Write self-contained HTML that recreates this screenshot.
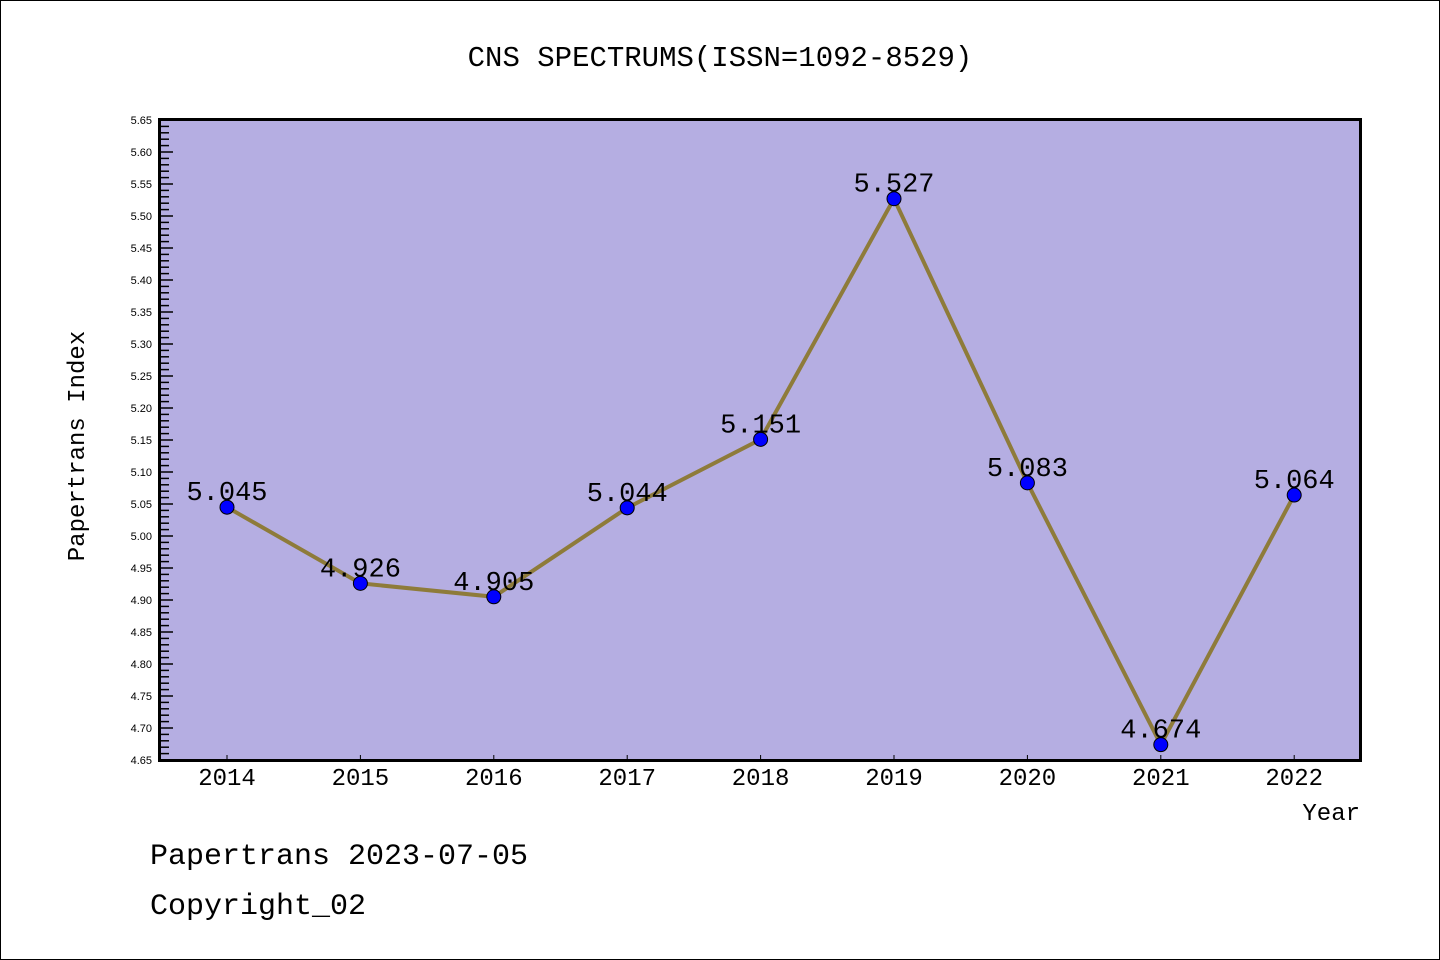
<!DOCTYPE html>
<html><head><meta charset="utf-8"><style>
body{margin:0;background:#fff}
svg{display:block}
.t{font-family:"Liberation Mono","WenQuanYi Zen Hei",monospace}
</style></head><body>
<svg width="1440" height="960">
<rect x="0.5" y="0.5" width="1439" height="959" fill="#fff" stroke="#000"/>
<text class="t" x="720" y="66" font-size="29" text-anchor="middle">CNS SPECTRUMS(ISSN=1092-8529)</text>
<rect x="159.5" y="119.5" width="1201" height="641" fill="#b5aee2"/>
<g id="yax"></g>
<g id="xax"></g>
<g id="series"></g>
<rect x="159.5" y="119.5" width="1201" height="641" fill="none" stroke="#000" stroke-width="3"/>
<text class="t" x="84" y="446" font-size="24" text-anchor="middle" transform="rotate(-90 84 446)">Papertrans Index</text>
<text class="t" x="1360" y="820" font-size="24" text-anchor="end">Year</text>
<text class="t" x="150" y="864" font-size="30">Papertrans 2023-07-05</text>
<text class="t" x="150" y="914" font-size="30">Copyright_02</text>
</svg>
<script>
const years=["2014","2015","2016","2017","2018","2019","2020","2021","2022"];
const values=[5.045,4.926,4.905,5.044,5.151,5.527,5.083,4.674,5.064];
const labels=["5.045","4.926","4.905","5.044","5.151","5.527","5.083","4.674","5.064"];
const yTicks=["4.65","4.70","4.75","4.80","4.85","4.90","4.95","5.00","5.05","5.10","5.15","5.20","5.25","5.30","5.35","5.40","5.45","5.50","5.55","5.60","5.65"];
const ns="http://www.w3.org/2000/svg";
const yMin=4.65,yMax=5.65,pTop=120,pBot=760;
const y=v=>pBot-(v-yMin)/(yMax-yMin)*(pBot-pTop);
const x=i=>227+i*133.4;
function mk(t,a,p){const e=document.createElementNS(ns,t);for(const k in a)e.setAttribute(k,a[k]);p.appendChild(e);return e;}
const ya=document.getElementById('yax');
for(let k=0;k<=100;k++){const v=yMin+k*0.01;const major=k%5===0;
const l=mk('line',{x1:160,x2:major?173:169,y1:y(v),y2:y(v),stroke:'#000','stroke-width':1.5},ya);

}
yTicks.forEach(s=>{const t=mk('text',{x:152,y:y(+s)+4,'font-size':11,'text-anchor':'end','font-family':'"Liberation Sans",sans-serif'},ya);t.textContent=s;

});
const xa=document.getElementById('xax');
years.forEach((s,i)=>{const l=mk('line',{x1:x(i),x2:x(i),y1:760,y2:755,stroke:'#000','stroke-width':1},xa);


const t=mk('text',{x:x(i),y:785,'font-size':24,'text-anchor':'middle','class':'t'},xa);t.textContent=s;

});
const sg=document.getElementById('series');
const pl=mk('polyline',{points:values.map((v,i)=>x(i)+','+y(v)).join(' '),fill:'none',stroke:'#8e7b3a','stroke-width':4},sg);


values.forEach((v,i)=>{const c=mk('circle',{cx:x(i),cy:y(v),r:7,fill:'#0000ff',stroke:'#000','stroke-width':1},sg);


const t=mk('text',{x:x(i),y:y(v)-7,'font-size':27,'text-anchor':'middle','class':'t'},sg);t.textContent=labels[i];

});
</script>
</body></html>
